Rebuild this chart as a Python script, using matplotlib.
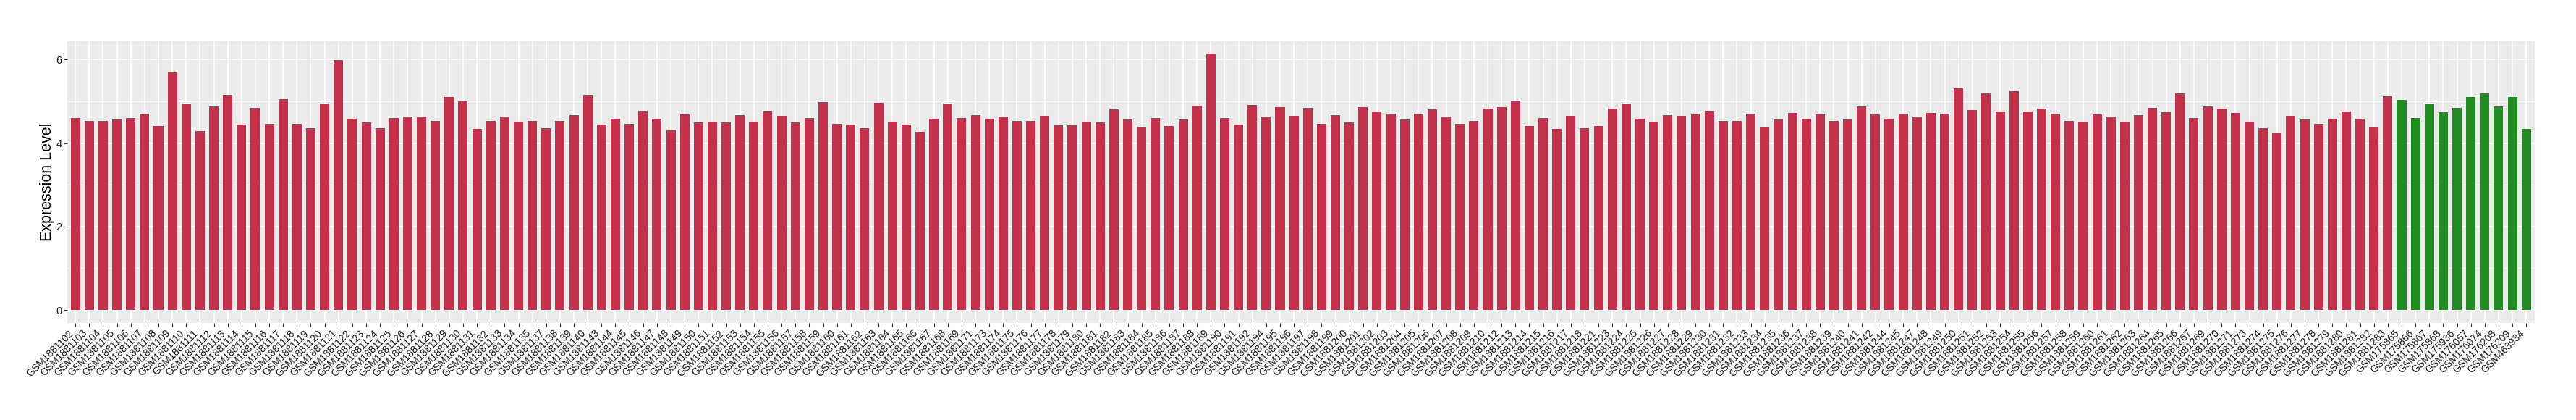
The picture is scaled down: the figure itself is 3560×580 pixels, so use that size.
import matplotlib
matplotlib.use("Agg")
import matplotlib.pyplot as plt
from matplotlib.ticker import FixedLocator

plt.rcParams['font.family'] = ['Liberation Sans', 'DejaVu Sans']

tumor_samples = [
    "GSM1881102", "GSM1881103", "GSM1881104", "GSM1881105", "GSM1881106", "GSM1881107",
    "GSM1881108", "GSM1881109", "GSM1881110", "GSM1881111", "GSM1881112", "GSM1881113",
    "GSM1881114", "GSM1881115", "GSM1881116", "GSM1881117", "GSM1881118", "GSM1881119",
    "GSM1881120", "GSM1881121", "GSM1881122", "GSM1881123", "GSM1881124", "GSM1881125",
    "GSM1881126", "GSM1881127", "GSM1881128", "GSM1881129", "GSM1881130", "GSM1881131",
    "GSM1881132", "GSM1881133", "GSM1881134", "GSM1881135", "GSM1881137", "GSM1881138",
    "GSM1881139", "GSM1881140", "GSM1881143", "GSM1881144", "GSM1881145", "GSM1881146",
    "GSM1881147", "GSM1881148", "GSM1881149", "GSM1881150", "GSM1881151", "GSM1881152",
    "GSM1881153", "GSM1881154", "GSM1881155", "GSM1881156", "GSM1881157", "GSM1881158",
    "GSM1881159", "GSM1881160", "GSM1881161", "GSM1881162", "GSM1881163", "GSM1881164",
    "GSM1881165", "GSM1881166", "GSM1881167", "GSM1881168", "GSM1881169", "GSM1881171",
    "GSM1881173", "GSM1881174", "GSM1881175", "GSM1881176", "GSM1881177", "GSM1881178",
    "GSM1881179", "GSM1881180", "GSM1881181", "GSM1881182", "GSM1881183", "GSM1881184",
    "GSM1881185", "GSM1881186", "GSM1881187", "GSM1881188", "GSM1881189", "GSM1881190",
    "GSM1881191", "GSM1881192", "GSM1881194", "GSM1881195", "GSM1881196", "GSM1881197",
    "GSM1881198", "GSM1881199", "GSM1881200", "GSM1881201", "GSM1881202", "GSM1881203",
    "GSM1881204", "GSM1881205", "GSM1881206", "GSM1881207", "GSM1881208", "GSM1881209",
    "GSM1881210", "GSM1881212", "GSM1881213", "GSM1881214", "GSM1881215", "GSM1881216",
    "GSM1881217", "GSM1881218", "GSM1881221", "GSM1881223", "GSM1881224", "GSM1881225",
    "GSM1881226", "GSM1881227", "GSM1881228", "GSM1881229", "GSM1881230", "GSM1881231",
    "GSM1881232", "GSM1881233", "GSM1881234", "GSM1881235", "GSM1881236", "GSM1881237",
    "GSM1881238", "GSM1881239", "GSM1881240", "GSM1881241", "GSM1881242", "GSM1881244",
    "GSM1881245", "GSM1881247", "GSM1881248", "GSM1881249", "GSM1881250", "GSM1881251",
    "GSM1881252", "GSM1881253", "GSM1881254", "GSM1881255", "GSM1881256", "GSM1881257",
    "GSM1881258", "GSM1881259", "GSM1881260", "GSM1881261", "GSM1881262", "GSM1881263",
    "GSM1881264", "GSM1881265", "GSM1881266", "GSM1881267", "GSM1881269", "GSM1881270",
    "GSM1881271", "GSM1881273", "GSM1881274", "GSM1881275", "GSM1881276", "GSM1881277",
    "GSM1881278", "GSM1881279", "GSM1881280", "GSM1881281", "GSM1881282", "GSM1881283",
]

tumor_values = [
    4.61, 4.54, 4.54, 4.56, 4.61, 4.70,
    4.41, 5.69, 4.94, 4.29, 4.88, 5.15,
    4.44, 4.84, 4.46, 5.05, 4.46, 4.35,
    4.94, 5.99, 4.59, 4.49, 4.35, 4.61,
    4.63, 4.63, 4.53, 5.10, 5.00, 4.34,
    4.53, 4.63, 4.51, 4.54, 4.35, 4.54,
    4.67, 5.15, 4.44, 4.58, 4.46, 4.77,
    4.59, 4.32, 4.68, 4.49, 4.51, 4.49,
    4.67, 4.51, 4.77, 4.65, 4.49, 4.61,
    4.98, 4.47, 4.44, 4.35, 4.96, 4.51,
    4.44, 4.27, 4.58, 4.94, 4.61, 4.67,
    4.58, 4.63, 4.54, 4.53, 4.65, 4.42,
    4.42, 4.51, 4.49, 4.81, 4.56, 4.39,
    4.61, 4.41, 4.56, 4.89, 6.14, 4.61,
    4.44, 4.91, 4.63, 4.86, 4.65, 4.84,
    4.46, 4.67, 4.49, 4.86, 4.76, 4.70,
    4.56, 4.70, 4.81, 4.63, 4.46, 4.53,
    4.82, 4.86, 5.01, 4.41, 4.61, 4.34,
    4.65, 4.35, 4.41, 4.82, 4.94, 4.59,
    4.51, 4.67, 4.65, 4.68, 4.77, 4.54,
    4.53, 4.70, 4.37, 4.56, 4.72, 4.59,
    4.68, 4.54, 4.56, 4.88, 4.68, 4.58,
    4.70, 4.63, 4.72, 4.70, 5.31, 4.79,
    5.20, 4.76, 5.24, 4.76, 4.82, 4.70,
    4.54, 4.51, 4.68, 4.63, 4.51, 4.67,
    4.84, 4.74, 5.20, 4.61, 4.88, 4.82,
    4.72, 4.51, 4.35, 4.24, 4.65, 4.56,
    4.46, 4.59, 4.76, 4.58, 4.37, 5.13,
]

normal_samples = [
    "GSM175865", "GSM175866", "GSM175867", "GSM175868", "GSM175936",
    "GSM176057", "GSM176074", "GSM176208", "GSM176209", "GSM463934",
]
normal_values = [5.03, 4.61, 4.94, 4.74, 4.84, 5.11, 5.20, 4.88, 5.10, 4.34]

tumor_color = "#C3314A"
normal_color = "#228B22"

labels = tumor_samples + normal_samples
values = tumor_values + normal_values
colors = [tumor_color] * len(tumor_samples) + [normal_color] * len(normal_samples)
n = len(labels)

W, H = 3560, 580
fig = plt.figure(figsize=(W / 100, H / 100), dpi=100)
left, right, top, bottom = 92.7, 3502.7, 56.7, 445.7
ax = fig.add_axes([left / W, 1 - bottom / H, (right - left) / W, (bottom - top) / H])
ax.set_facecolor("#EBEBEB")

x = list(range(n))
ax.bar(x, values, width=0.68, color=colors, zorder=3)

ymax = max(values)
ax.set_xlim(-0.6, n - 1 + 0.6)
ax.set_ylim(-0.05 * ymax, 1.05 * ymax)

ax.set_xticks(x)
ax.set_xticklabels(labels, rotation=45, ha="right", va="top", fontsize=10, color="#1A1A1A")
ax.set_yticks([0, 2, 4, 6])
ax.set_yticklabels(["0", "2", "4", "6"], fontsize=10.5, color="#1A1A1A")
ax.yaxis.set_minor_locator(FixedLocator([1, 3, 5]))
ax.tick_params(axis="both", which="major", length=3.7, width=0.8, color="#333333", pad=1.5)
ax.tick_params(axis="y", which="minor", length=0)

ax.grid(True, which="major", color="white", linewidth=1.2, zorder=0)
ax.grid(True, which="minor", axis="y", color="white", linewidth=0.6, zorder=0)
ax.set_axisbelow(True)
for s in ax.spines.values():
    s.set_visible(False)

ax.set_ylabel("Expression Level", fontsize=15.5, color="black", va="center")
ax.yaxis.set_label_coords((65.5 - left) / (right - left), 0.5)

fig.savefig("out.png", dpi=100, facecolor="white")
